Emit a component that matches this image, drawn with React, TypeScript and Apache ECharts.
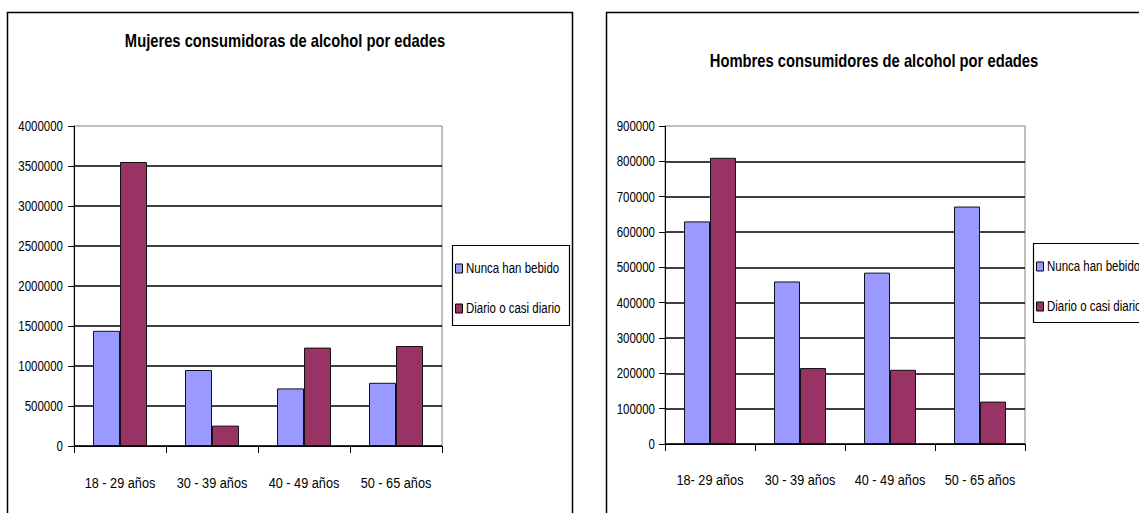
import React, { useEffect, useRef } from "react";
import * as echarts from "echarts";

// Age groups (women's chart uses "18 - 29", men's chart "18- 29")
const categoriesMujeres = ["18 - 29 años", "30 - 39 años", "40 - 49 años", "50 - 65 años"];
const categoriesHombres = ["18- 29 años", "30 - 39 años", "40 - 49 años", "50 - 65 años"];

const seriesNames = ["Nunca han bebido", "Diario o casi diario"];

// Women
const mujeresNunca = [1440000, 950000, 720000, 790000];
const mujeresDiario = [3550000, 255000, 1230000, 1250000];

// Men
const hombresNunca = [630000, 460000, 485000, 672000];
const hombresDiario = [810000, 215000, 210000, 120000];

// Value-axis tick labels
const ticksMujeres = [0, 500000, 1000000, 1500000, 2000000, 2500000, 3000000, 3500000, 4000000];
const ticksHombres = [0, 100000, 200000, 300000, 400000, 500000, 600000, 700000, 800000, 900000];

const titleMujeres = "Mujeres consumidoras de alcohol por edades";
const titleHombres = "Hombres consumidores de alcohol por edades";

// Arial Narrow look: Arial-metric font squeezed horizontally
const FONT = "'Liberation Sans', Arial, sans-serif";
const NARROW = 0.82;
const BLUE = "#9999FF";
const PLUM = "#993366";
const COLORS = [BLUE, PLUM];

function narrowText(
  text: string,
  x: number,
  y: number,
  align: string,
  fontSize: number,
  bold = false
) {
  return {
    type: "text",
    x,
    y,
    scaleX: NARROW,
    silent: true,
    style: {
      text,
      fill: "#000",
      fontFamily: FONT,
      fontSize,
      fontWeight: bold ? "bold" : "normal",
      align,
      verticalAlign: "middle",
    },
  };
}

function xAxisFor(gridIndex: number, data: string[]) {
  return {
    gridIndex,
    type: "category",
    data,
    axisLine: { show: true, lineStyle: { color: "#000", width: 1 } },
    axisTick: { show: true, length: 7, interval: 0, lineStyle: { color: "#000" } },
    axisLabel: { show: false },
    splitLine: { show: false },
  };
}

function yAxisFor(gridIndex: number, ticks: number[]) {
  return {
    gridIndex,
    type: "value",
    min: ticks[0],
    max: ticks[ticks.length - 1],
    interval: ticks[1] - ticks[0],
    axisLine: { show: true, lineStyle: { color: "#000", width: 1 } },
    axisTick: { show: true, length: 6, lineStyle: { color: "#000" } },
    axisLabel: { show: false },
    splitLine: { show: true, showMaxLine: false, lineStyle: { color: "#000", width: 1.5 } },
  };
}

function barSeries(name: string, data: number[], axis: number, color: string, width: number) {
  return {
    type: "bar",
    name,
    data,
    xAxisIndex: axis,
    yAxisIndex: axis,
    barWidth: width,
    barGap: "0%",
    itemStyle: { color, borderColor: "#111", borderWidth: 1 },
  };
}

// Boxed legend in the spreadsheet style: square swatch + narrow text per row
function legendBox(x: number, y: number, w: number, h: number, rowYs: number[]) {
  const els: any[] = [
    {
      type: "rect",
      silent: true,
      shape: { x: x + 0.5, y: y + 0.5, width: w, height: h },
      style: { fill: "#fff", stroke: "#000", lineWidth: 1.2 },
    },
  ];
  seriesNames.forEach((name, i) => {
    els.push({
      type: "rect",
      silent: true,
      shape: { x: x + 3.5, y: rowYs[i] - 4, width: 7, height: 9 },
      style: { fill: COLORS[i], stroke: "#000", lineWidth: 1 },
    });
    els.push(narrowText(name, x + 14, rowYs[i], "left", 14));
  });
  return els;
}

export default function App() {
  const ref = useRef<HTMLDivElement>(null);

  useEffect(() => {
    if (!ref.current) return;
    const chart = echarts.init(ref.current, null, { renderer: "svg" });
    chart.setOption({
      animation: false,
      backgroundColor: "#fff",
      grid: [
        { left: 74, top: 126, width: 368, height: 320, show: true, borderColor: "#808080", borderWidth: 1, backgroundColor: "transparent" },
        { left: 665, top: 126, width: 360, height: 318, show: true, borderColor: "#808080", borderWidth: 1, backgroundColor: "transparent" },
      ],
      xAxis: [xAxisFor(0, categoriesMujeres), xAxisFor(1, categoriesHombres)],
      yAxis: [yAxisFor(0, ticksMujeres), yAxisFor(1, ticksHombres)],
      series: [
        barSeries(seriesNames[0], mujeresNunca, 0, BLUE, 27),
        barSeries(seriesNames[1], mujeresDiario, 0, PLUM, 27),
        barSeries(seriesNames[0], hombresNunca, 1, BLUE, 26),
        barSeries(seriesNames[1], hombresDiario, 1, PLUM, 26),
      ],
    });

    // Axis labels placed through the axes' own scales
    const labels: any[] = [];
    const axes = [
      { idx: 0, ticks: ticksMujeres, cats: categoriesMujeres, labelRight: 63, catY: 483 },
      { idx: 1, ticks: ticksHombres, cats: categoriesHombres, labelRight: 655, catY: 480 },
    ];
    axes.forEach((a) => {
      a.ticks.forEach((v) => {
        const py = chart.convertToPixel({ yAxisIndex: a.idx }, v) as number;
        labels.push(narrowText(String(v), a.labelRight, py, "right", 14));
      });
      a.cats.forEach((c, i) => {
        const px = chart.convertToPixel({ xAxisIndex: a.idx }, i) as number;
        labels.push(narrowText(c, px, a.catY, "center", 15.5));
      });
    });

    chart.setOption({
      graphic: [
        {
          type: "rect",
          silent: true,
          shape: { x: 7.5, y: 12.5, width: 565, height: 530 },
          style: { fill: "none", stroke: "#000", lineWidth: 1.5 },
        },
        {
          type: "rect",
          silent: true,
          shape: { x: 606.5, y: 12.5, width: 600, height: 530 },
          style: { fill: "none", stroke: "#000", lineWidth: 1.5 },
        },
        narrowText(titleMujeres, 285, 40, "center", 18, true),
        narrowText(titleHombres, 874, 60, "center", 18, true),
        ...labels,
        ...legendBox(452, 245, 117, 80, [268, 308]),
        ...legendBox(1033, 243, 120, 79, [266, 306]),
      ],
    });
    return () => chart.dispose();
  }, []);

  return (
    <div
      ref={ref}
      style={{ position: "absolute", left: 0, top: 0, width: 1139, height: 513 }}
    />
  );
}
